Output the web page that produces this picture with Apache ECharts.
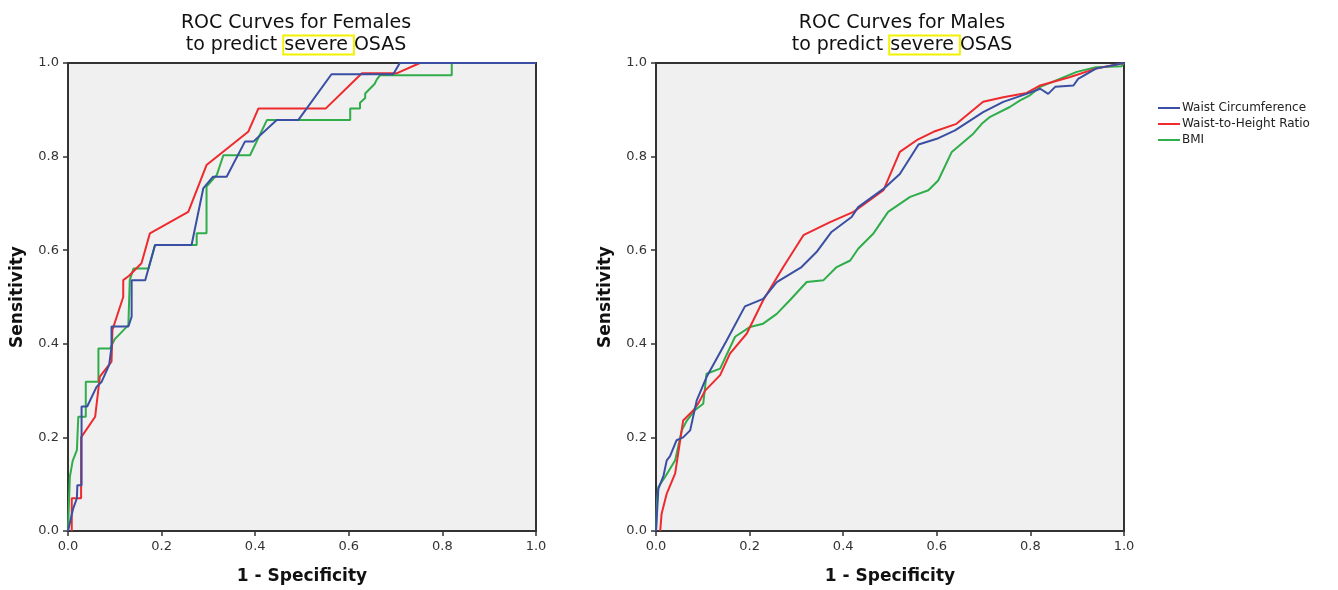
<!DOCTYPE html>
<html>
<head>
<meta charset="utf-8">
<title>ROC Curves</title>
<script src="https://cdn.jsdelivr.net/npm/echarts@6/dist/echarts.min.js"></script>
<style>
  html, body { margin: 0; padding: 0; background: #fff; }
  #main { width: 1338px; height: 590px; }
</style>
</head>
<body>
<div id="main"></div>
<script>
// tick labels shared by both panels
var tickLabels = ['0.0', '0.2', '0.4', '0.6', '0.8', '1.0'];
var seriesNames = ['Waist Circumference', 'Waist-to-Height Ratio', 'BMI'];

// females: [1 - specificity, sensitivity]
var femaleWaist = [[0,0],[0.011,0.048],[0.019,0.07],[0.02,0.098],[0.029,0.098],[0.029,0.266],[0.041,0.266],[0.061,0.308],[0.072,0.319],[0.088,0.355],[0.093,0.394],[0.093,0.437],[0.129,0.437],[0.136,0.458],[0.136,0.536],[0.165,0.536],[0.186,0.611],[0.264,0.611],[0.289,0.732],[0.31,0.757],[0.339,0.757],[0.378,0.832],[0.396,0.832],[0.446,0.878],[0.492,0.878],[0.563,0.976],[0.695,0.976],[0.709,1],[1,1]];
var femaleWHtR = [[0.008,0],[0.008,0.07],[0.028,0.07],[0.028,0.2],[0.058,0.244],[0.068,0.33],[0.093,0.362],[0.095,0.43],[0.118,0.5],[0.118,0.536],[0.13,0.545],[0.157,0.572],[0.175,0.636],[0.257,0.682],[0.296,0.782],[0.385,0.853],[0.407,0.903],[0.551,0.903],[0.628,0.978],[0.702,0.978],[0.752,1],[1,1]];
var femaleBMI = [[0,0],[0.002,0.06],[0.004,0.116],[0.01,0.15],[0.019,0.173],[0.022,0.244],[0.038,0.244],[0.038,0.319],[0.065,0.319],[0.065,0.39],[0.09,0.39],[0.1,0.41],[0.129,0.44],[0.132,0.44],[0.132,0.536],[0.14,0.561],[0.172,0.561],[0.186,0.611],[0.275,0.611],[0.275,0.636],[0.296,0.636],[0.296,0.736],[0.318,0.761],[0.332,0.803],[0.389,0.803],[0.425,0.878],[0.603,0.878],[0.603,0.903],[0.624,0.903],[0.624,0.915],[0.635,0.925],[0.635,0.935],[0.645,0.945],[0.655,0.955],[0.66,0.965],[0.667,0.974],[0.82,0.974],[0.82,1],[1,1]];

// males
var maleWaist = [[0,0],[0.005,0.09],[0.016,0.118],[0.023,0.151],[0.03,0.16],[0.044,0.194],[0.058,0.2],[0.073,0.215],[0.087,0.279],[0.108,0.329],[0.151,0.407],[0.19,0.48],[0.229,0.496],[0.258,0.532],[0.311,0.564],[0.343,0.596],[0.375,0.639],[0.418,0.671],[0.432,0.692],[0.486,0.731],[0.521,0.763],[0.561,0.826],[0.6,0.838],[0.639,0.856],[0.699,0.895],[0.742,0.917],[0.792,0.934],[0.821,0.945],[0.838,0.934],[0.853,0.949],[0.892,0.952],[0.902,0.966],[0.94,0.988],[1,1]];
var maleWHtR = [[0.009,0],[0.012,0.037],[0.023,0.08],[0.041,0.123],[0.058,0.236],[0.08,0.258],[0.09,0.272],[0.105,0.3],[0.137,0.333],[0.158,0.379],[0.194,0.422],[0.229,0.493],[0.272,0.564],[0.315,0.632],[0.372,0.66],[0.422,0.682],[0.486,0.728],[0.521,0.81],[0.557,0.835],[0.593,0.853],[0.642,0.87],[0.699,0.917],[0.742,0.927],[0.792,0.936],[0.821,0.952],[0.885,0.97],[0.94,0.988],[1,1]];
var maleBMI = [[0,0],[0.002,0.06],[0.005,0.094],[0.019,0.115],[0.041,0.151],[0.055,0.215],[0.066,0.236],[0.083,0.258],[0.101,0.272],[0.108,0.336],[0.137,0.347],[0.169,0.415],[0.201,0.436],[0.229,0.443],[0.258,0.464],[0.286,0.493],[0.322,0.532],[0.358,0.536],[0.386,0.564],[0.415,0.578],[0.432,0.603],[0.464,0.635],[0.496,0.682],[0.543,0.714],[0.582,0.728],[0.603,0.749],[0.632,0.81],[0.678,0.849],[0.696,0.87],[0.714,0.885],[0.756,0.906],[0.778,0.92],[0.799,0.931],[0.821,0.949],[0.899,0.981],[0.94,0.991],[0.995,0.993],[1,1]];

var colors = ['#3a4fa3', '#ee2a2e', '#2fad4a'];
var font = 'DejaVu Sans';

function makeTitle(x, who) {
    return {
        text: 'ROC Curves for ' + who + '\nto predict {hl|severe }OSAS',
        left: x,
        top: 7,
        textAlign: 'center',
        textStyle: {
            fontFamily: font,
            fontSize: 19,
            fontWeight: 'normal',
            color: '#111',
            lineHeight: 22,
            rich: {
                hl: {
                    fontFamily: font,
                    fontSize: 19,
                    color: '#111',
                    borderColor: '#f2f200',
                    borderWidth: 2,
                    padding: [0, 0, 0, 1],
                    lineHeight: 22
                }
            }
        }
    };
}

function makeAxis(idx, isX) {
    return {
        type: 'value',
        gridIndex: idx,
        min: 0,
        max: 1,
        interval: 0.2,
        name: isX ? '1 - Specificity' : 'Sensitivity',
        nameLocation: 'middle',
        nameGap: isX ? 37 : 42,
        nameTextStyle: { fontFamily: font, fontSize: 17, fontWeight: 'bold', color: '#111' },
        axisLine: { show: true, lineStyle: { color: '#333', width: 2 } },
        axisTick: { show: true, length: 5, lineStyle: { color: '#333', width: 1.5 } },
        axisLabel: {
            fontFamily: font,
            fontSize: 13,
            color: '#333',
            margin: 9,
            formatter: function (v) { return tickLabels[Math.round(v / 0.2)]; }
        },
        splitLine: { show: false }
    };
}

function makeSeries(name, data, idx, c) {
    return {
        name: name,
        type: 'line',
        xAxisIndex: idx,
        yAxisIndex: idx,
        data: data,
        symbol: 'none',
        lineStyle: { color: colors[c], width: 2 },
        itemStyle: { color: colors[c] },
        z: 3 - c
    };
}

var myChart = echarts.init(document.getElementById('main'));
myChart.setOption({
    animation: false,
    backgroundColor: '#fff',
    title: [makeTitle(291, 'Females'), makeTitle(897, 'Males')],
    legend: {
        data: seriesNames,
        orient: 'vertical',
        left: 1153,
        top: 96,
        icon: 'rect',
        itemWidth: 22,
        itemHeight: 2,
        itemGap: 2,
        textStyle: { fontFamily: font, fontSize: 12, lineHeight: 14, color: '#222', padding: [0, 0, 0, -3] }
    },
    grid: [
        { left: 68, top: 63, width: 468, height: 468, show: true, backgroundColor: '#f0f0f0', borderColor: '#333', borderWidth: 2 },
        { left: 656, top: 63, width: 468, height: 468, show: true, backgroundColor: '#f0f0f0', borderColor: '#333', borderWidth: 2 }
    ],
    xAxis: [makeAxis(0, true), makeAxis(1, true)],
    yAxis: [makeAxis(0, false), makeAxis(1, false)],
    series: [
        makeSeries(seriesNames[0], femaleWaist, 0, 0),
        makeSeries(seriesNames[1], femaleWHtR, 0, 1),
        makeSeries(seriesNames[2], femaleBMI, 0, 2),
        makeSeries(seriesNames[0], maleWaist, 1, 0),
        makeSeries(seriesNames[1], maleWHtR, 1, 1),
        makeSeries(seriesNames[2], maleBMI, 1, 2)
    ]
});
</script>
</body>
</html>
